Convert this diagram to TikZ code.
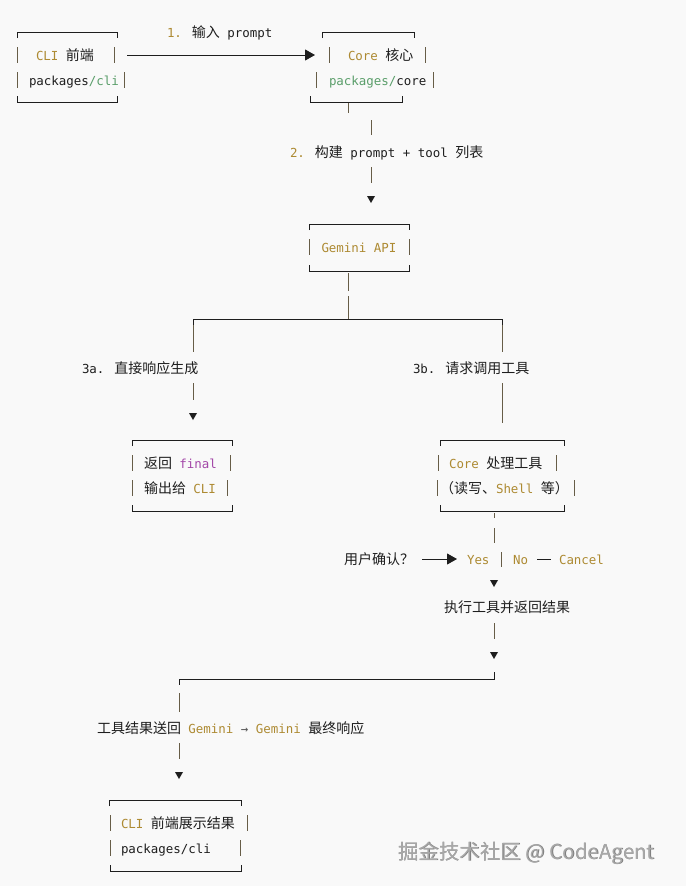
\documentclass[tikz,border=0pt]{standalone}
\usepackage{fontspec}
\newfontfamily\mono{DejaVu Sans Mono}
\newfontfamily\cjk{Noto Sans CJK SC}
\usetikzlibrary{arrows.meta}
\definecolor{bg}{HTML}{F9F9F9}
\definecolor{ink}{HTML}{1E1E1E}
\definecolor{gold}{HTML}{AD8A32}
\definecolor{grn}{HTML}{5A9E6A}
\definecolor{purp}{HTML}{A347A8}
\definecolor{barc}{HTML}{675D47}
\definecolor{wmc}{HTML}{A8A8A8}
\definecolor{wmd}{HTML}{7E7E7E}
\newcommand\zh[1]{{\cjk\fontsize{14}{16}\selectfont #1}}
\newcommand\gd[1]{\textcolor{gold}{#1}}
\newcommand\gr[1]{\textcolor{grn}{#1}}
\tikzset{
  txt/.style={anchor=base west, inner sep=0pt, outer sep=0pt, text=ink,
    font=\mono\fontsize{12.45}{14}\selectfont},
  frame/.style={draw=ink, line width=1pt},
  vbar/.style={draw=barc, line width=1pt},
  tipline/.style={draw=ink, line width=1pt, -{Triangle[length=10pt,width=11pt]}},
  tri/.style={fill=ink},
  wmark/.style={anchor=base west, inner sep=0pt, font=\cjk\fontsize{20.5}{22}\selectfont},
}
% box top edge: x1, x2, y
\newcommand\boxtop[3]{\draw[frame] (#1,#3+6) -- (#1,#3) -- (#2,#3) -- (#2,#3+6);}
\newcommand\boxbot[3]{\draw[frame] (#1,#3-6) -- (#1,#3) -- (#2,#3) -- (#2,#3-6);}
% side bar: x, centre y
\newcommand\sidebar[2]{\draw[vbar] (#1,#2-8) -- (#1,#2+8);}
% down triangle at named coordinate
\newcommand\downtri[1]{\fill[tri] (#1) ++(-4,0) -- ++(8,0) -- ++(-4,7) -- cycle;}
\begin{document}
\begin{tikzpicture}[x=1pt,y=-1pt]
\fill[bg] (0,0) rectangle (686,886);
\useasboundingbox (0,0) rectangle (686,886);

% ---------- texts ----------
\node[txt] (lab1) at (167,37) {\gd{1.} \zh{输入} prompt};
\node[txt] (cli1) at (36,60) {\gd{CLI} \zh{前端}};
\node[txt] (cli2) at (29,85) {packages\gr{/cli}};
\node[txt] (core1) at (348,60) {\gd{Core} \zh{核心}};
\node[txt] (core2) at (329,85) {\gr{packages/}core};
\node[txt] (lab2) at (290,157) {\gd{2.} \zh{构建} prompt + tool \zh{列表}};
\node[txt] (gem) at (321.5,252) {\gd{Gemini API}};
\node[txt] (lab3a) at (82,373) {3a. \zh{直接响应生成}};
\node[txt] (lab3b) at (413,373) {3b. \zh{请求调用工具}};
\node[txt] (fin1) at (144,468) {\zh{返回} \textcolor{purp}{final}};
\node[txt] (fin2) at (144,493) {\zh{输出给} \gd{CLI}};
\node[txt] (tool1) at (449,468) {\gd{Core} \zh{处理工具}};
\node[txt] (tool2) at (440,493) {\zh{（读写、}\gd{Shell} \zh{等）}};
\node[txt] (ask) at (344,564) {\zh{用户确认？}};
\node[txt] (yes) at (467,564) {\gd{Yes}};
\node[txt] (no) at (513,564) {\gd{No}};
\node[txt] (cancel) at (559,564) {\gd{Cancel}};
\node[txt] (exec) at (444,612) {\zh{执行工具并返回结果}};
\node[txt] (lab4) at (97,733) {\zh{工具结果送回} \gd{Gemini} \textcolor{ink!75}{→} \gd{Gemini} \zh{最终响应}};
\node[txt] (out1) at (121,828) {\gd{CLI} \zh{前端展示结果}};
\node[txt] (out2) at (121,853) {packages/cli};
\node[wmark, text=wmd] (wmshadow) at (398.5,859.5) {掘金技术社区 @ CodeAgent};
\node[wmark, text=wmc] (wm) at (398,859) {掘金技术社区 @ CodeAgent};

% ---------- boxes ----------
% CLI box
\boxtop{17}{117}{32}
\sidebar{17}{55}\sidebar{114}{55}
\sidebar{17}{80}\sidebar{124}{80}
\boxbot{17}{117}{102}
% Core box
\boxtop{322}{414}{32}
\sidebar{329}{55}\sidebar{425}{55}
\sidebar{316}{80}\sidebar{433}{80}
\boxbot{310}{402}{102}
% Gemini box
\boxtop{309}{409}{224}
\sidebar{309}{247}\sidebar{409}{247}
\boxbot{309}{409}{271}
% final box
\boxtop{132}{232}{440}
\sidebar{132}{463}\sidebar{230}{463}
\sidebar{132}{488}\sidebar{227}{488}
\boxbot{132}{232}{511}
% tool box
\boxtop{440}{564}{440}
\sidebar{438}{463}\sidebar{556}{463}
\sidebar{437}{488}\sidebar{574}{488}
\boxbot{440}{564}{511}
% output box
\boxtop{109}{241}{800}
\sidebar{110}{823}\sidebar{247}{823}
\sidebar{110}{848}\sidebar{240}{848}
\boxbot{110}{241}{871}

% ---------- connector coordinates ----------
\coordinate (a1s) at (127,55);   \coordinate (a1e) at (315,55);
\coordinate (c1a) at (348,103);  \coordinate (c1b) at (348,113);
\coordinate (c2a) at (371,120);  \coordinate (c2b) at (371,135);
\coordinate (c3a) at (371,167);  \coordinate (c3b) at (371,183);
\coordinate (t1) at (371,196);
\coordinate (g1a) at (348,273);  \coordinate (g1b) at (348,291);
\coordinate (g2a) at (348,296);  \coordinate (g2b) at (348,319);
\coordinate (brL) at (193,319);  \coordinate (brR) at (502,319);
\coordinate (bL0) at (193,325);  \coordinate (bR0) at (502,325);
\coordinate (bL1) at (193,352);  \coordinate (bR1) at (502,352);
\coordinate (bL2a) at (193,383); \coordinate (bL2b) at (193,400);
\coordinate (t3a) at (193,413);
\coordinate (bR2a) at (502,383); \coordinate (bR2b) at (502,423);
\coordinate (d1a) at (494,513);  \coordinate (d1b) at (494,518);
\coordinate (d2a) at (494,528);  \coordinate (d2b) at (494,543);
\coordinate (asks) at (422,559); \coordinate (aske) at (457,559);
\coordinate (yn1) at (501,552);  \coordinate (yn2) at (501,567);
\coordinate (nc1) at (537,559);  \coordinate (nc2) at (551,559);
\coordinate (t4) at (494,580);
\coordinate (e1a) at (494,623);  \coordinate (e1b) at (494,639);
\coordinate (t5) at (494,652);
\coordinate (rR) at (494,672);   \coordinate (rRc) at (494,679);
\coordinate (rLc) at (179,679);  \coordinate (rL) at (179,685);
\coordinate (f1a) at (179,693);  \coordinate (f1b) at (179,712);
\coordinate (f2a) at (179,743);  \coordinate (f2b) at (179,759);
\coordinate (t6) at (179,772);

% ---------- connectors ----------
\draw[tipline] (a1s) -- (a1e);
\draw[vbar] (c1a) -- (c1b);
\draw[vbar] (c2a) -- (c2b);
\draw[vbar] (c3a) -- (c3b);
\downtri{t1}
\draw[vbar] (g1a) -- (g1b);
\draw[vbar] (g2a) -- (g2b);
\draw[frame] (bL0) -- (brL) -- (brR) -- (bR0);
\draw[vbar] (bL0) -- (bL1);
\draw[vbar] (bR0) -- (bR1);
\draw[vbar] (bL2a) -- (bL2b);
\downtri{t3a}
\draw[vbar] (bR2a) -- (bR2b);
\draw[vbar] (d1a) -- (d1b);
\draw[vbar] (d2a) -- (d2b);
\draw[tipline] (asks) -- (aske);
\draw[vbar] (yn1) -- (yn2);
\draw[frame] (nc1) -- (nc2);
\downtri{t4}
\draw[vbar] (e1a) -- (e1b);
\downtri{t5}
\draw[frame] (rR) -- (rRc) -- (rLc) -- (rL);
\draw[vbar] (f1a) -- (f1b);
\draw[vbar] (f2a) -- (f2b);
\downtri{t6}
\end{tikzpicture}
\end{document}
